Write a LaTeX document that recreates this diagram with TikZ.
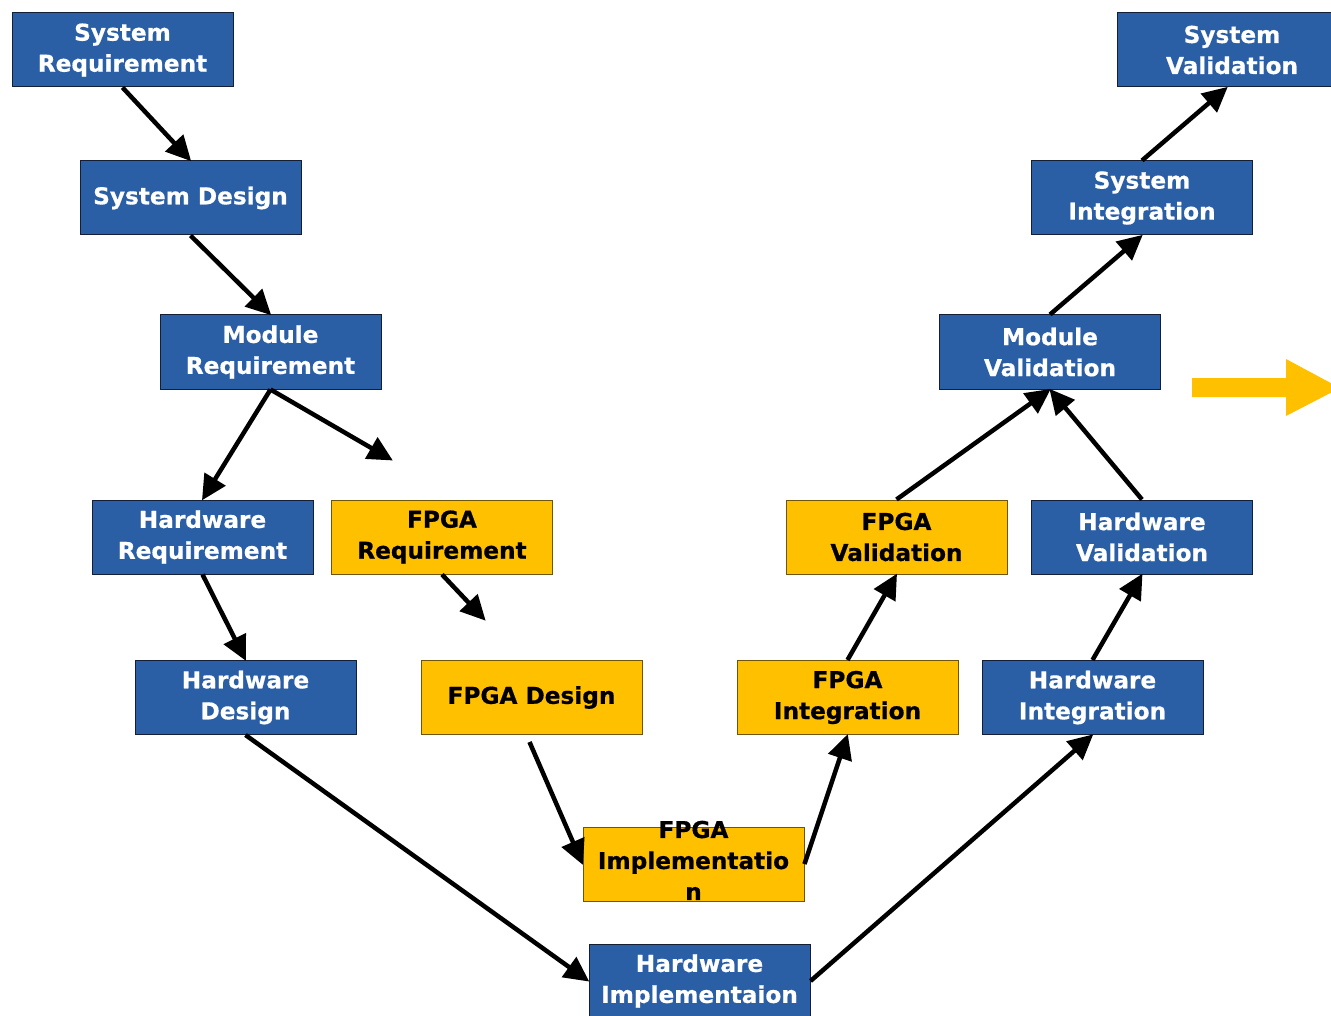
\documentclass[tikz,border=0pt]{standalone}
\usepackage{fontspec}
\setmainfont{DejaVu Sans}[BoldFeatures={FakeBold=0.6}]
\usetikzlibrary{arrows.meta}
\definecolor{stageblue}{RGB}{42,95,166}
\definecolor{stageblueedge}{RGB}{20,30,55}
\definecolor{fpgayellow}{RGB}{255,192,0}
\definecolor{fpgaedge}{RGB}{110,85,10}
\begin{document}
\begin{tikzpicture}[x=1pt,y=-1pt,
  stage/.style={rectangle, minimum width=221pt, minimum height=74pt, inner sep=2pt,
    align=center, font=\fontsize{23.2}{31}\selectfont\bfseries},
  hwbox/.style={stage, fill=stageblue, draw=stageblueedge, line width=1pt, text=white},
  fpgabox/.style={stage, fill=fpgayellow, draw=fpgaedge, line width=1pt, text=black},
  flow/.style={line width=4.5pt, -{Triangle[length=25pt,width=24pt]}, shorten >=-1pt}
]
\useasboundingbox (0,0) rectangle (1331,1016);
\clip (0,0) rectangle (1331,1016);

% left leg: decomposition
\node[hwbox] (sysreq) at (122.5,50) {System\\Requirement};
\node[hwbox] (sysdes) at (190.5,198) {System Design};
\node[hwbox] (modreq) at (270.5,352) {Module\\Requirement};
\node[hwbox] (hwreq) at (202.5,537) {Hardware\\Requirement};
\node[fpgabox] (fpgareq) at (442,537) {FPGA\\Requirement};
\node[hwbox] (hwdes) at (245.5,697.5) {Hardware\\Design};
\node[fpgabox] (fpgades) at (531.5,697.5) {FPGA Design};

% bottom: implementation (its label runs over the box edges)
\node[fpgabox] (fpgaimp) at (693.5,864)
  {\raisebox{-10pt}{\smash{\begin{tabular}{@{}c@{}}FPGA\\Implementatio\\n\end{tabular}}}};
\node[hwbox] (hwimp) at (699.5,981) {Hardware\\Implementaion};

% right leg: integration and validation
\node[fpgabox] (fpgaint) at (847.5,697.5) {FPGA\\Integration};
\node[hwbox] (hwint) at (1092.5,697.5) {Hardware\\Integration};
\node[fpgabox] (fpgaval) at (896.5,537) {FPGA\\Validation};
\node[hwbox] (hwval) at (1142,537) {Hardware\\Validation};
\node[hwbox] (modval) at (1050,352) {Module\\Validation};
\node[hwbox] (sysint) at (1142,198) {System\\Integration};
\node[hwbox, minimum width=230pt] (sysval) at (1232,50) {System\\Validation};

% open ends of the FPGA branch
\coordinate (fpgain) at (392,460);
\coordinate (fpgadesin) at (485,620);

% connectors
\draw[flow] (sysreq.south) -- (sysdes.north);
\draw[flow] (sysdes.south) -- (modreq.north);
\draw[flow] (modreq.south) -- (hwreq.north);
\draw[flow] (modreq.south) -- (fpgain);
\draw[flow] (hwreq.south) -- (hwdes.north);
\draw[flow] (fpgareq.south) -- (fpgadesin);
\draw[flow] ([shift={(-2,7)}]fpgades.south) -- (fpgaimp.west);
\draw[flow] (hwdes.south) -- (hwimp.west);
\draw[flow] (hwimp.east) -- (hwint.south);
\draw[flow] (fpgaimp.east) -- (fpgaint.south);
\draw[flow] (fpgaint.north) -- (fpgaval.south);
\draw[flow] (hwint.north) -- (hwval.south);
\draw[flow] (fpgaval.north) -- (modval.south);
\draw[flow] (hwval.north) -- (modval.south);
\draw[flow] (modval.north) -- (sysint.south);
\draw[flow] (sysint.north) -- ([xshift=-5pt]sysval.south);

% block arrow pointing onward
\fill[fpgayellow] (1192,378) -- (1286,378) -- (1286,359) -- (1340,388)
  -- (1286,416) -- (1286,397) -- (1192,397) -- cycle;
\end{tikzpicture}
\end{document}
